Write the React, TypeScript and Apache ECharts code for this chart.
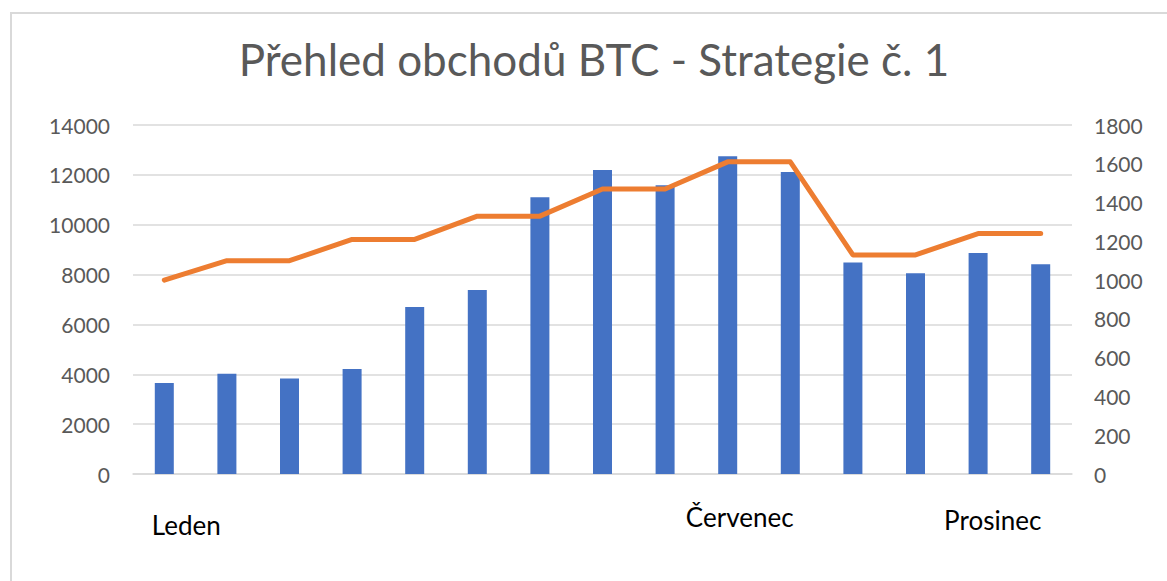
import React, { useEffect, useRef } from "react";
import * as echarts from "echarts";

const categories = ["Leden", "", "", "", "", "", "", "", "", "Červenec", "", "", "", "", "Prosinec"];
const barValues = [3650, 4020, 3835, 4210, 6700, 7380, 11100, 12195, 11580, 12745, 12115, 8480, 8050, 8865, 8410];
const lineValues = [1000, 1100, 1100, 1210, 1210, 1330, 1330, 1470, 1470, 1610, 1610, 1130, 1130, 1240, 1240];
const titleText = "Přehled obchodů BTC - Strategie č. 1";

const FONT = "Lato";

export default function App() {
  const ref = useRef<HTMLDivElement>(null);
  useEffect(() => {
    if (!ref.current) return;
    const chart = echarts.init(ref.current, undefined, { renderer: "svg" });
    const labelStyles: Record<string, any> = {
      l0: { fontFamily: FONT, fontSize: 26, color: "#000", padding: [8, 0, 0, 44] },
      l9: { fontFamily: FONT, fontSize: 26, color: "#000", padding: [0, 0, 0, 24] },
      l14: { fontFamily: FONT, fontSize: 26, color: "#000", padding: [3, 96, 0, 0] },
    };
    chart.setOption({
      animation: false,
      backgroundColor: "#ffffff",
      title: {
        text: titleText,
        left: 594,
        textAlign: "center",
        top: 37,
        padding: 0,
        textStyle: { fontFamily: FONT, fontSize: 44, fontWeight: "normal", color: "#595959" },
      },
      graphic: [
        {
          type: "rect",
          shape: { x: 11, y: 13, width: 1200, height: 600 },
          style: { fill: "none", stroke: "#d9d9d9", lineWidth: 2 },
          silent: true,
        },
      ],
      grid: { left: 133, right: 95, top: 125, bottom: 107, containLabel: false },
      xAxis: {
        type: "category",
        data: categories,
        axisLine: { show: true, lineStyle: { color: "#d9d9d9", width: 1.5 } },
        axisTick: { show: false },
        axisLabel: {
          interval: 0,
          margin: 30,
          hideOverlap: false,
          formatter: (v: string, i: number) => (v ? `{l${i}|${v}}` : ""),
          rich: labelStyles,
        },
      },
      yAxis: [
        {
          type: "value",
          min: 0,
          max: 14000,
          interval: 2000,
          axisLine: { show: false },
          axisTick: { show: false },
          splitLine: { lineStyle: { color: "#d9d9d9", width: 1.5 } },
          axisLabel: {
            margin: 23,
            fontFamily: FONT,
            fontSize: 21,
            color: "#595959",
            formatter: (v: number) => String(v),
          },
        },
        {
          type: "value",
          min: 0,
          max: 1800,
          interval: 200,
          axisLine: { show: false },
          axisTick: { show: false },
          splitLine: { show: false },
          axisLabel: {
            margin: 22,
            fontFamily: FONT,
            fontSize: 21,
            color: "#595959",
            formatter: (v: number) => String(v),
          },
        },
      ],
      series: [
        {
          type: "bar",
          data: barValues,
          yAxisIndex: 0,
          barWidth: 19,
          itemStyle: { color: "#4472C4" },
        },
        {
          type: "line",
          data: lineValues,
          yAxisIndex: 1,
          symbol: "none",
          lineStyle: { color: "#ED7D31", width: 5, cap: "round", join: "round" },
        },
      ],
    });
    return () => chart.dispose();
  }, []);
  return (
    <div
      ref={ref}
      style={{ position: "fixed", left: 0, top: 0, width: 1167, height: 581, background: "#fff" }}
    />
  );
}
